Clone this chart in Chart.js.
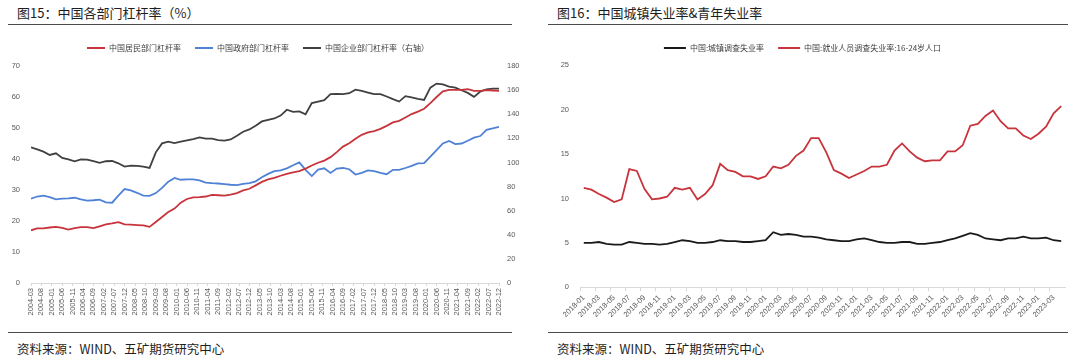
<!DOCTYPE html>
<html>
<head>
<meta charset="utf-8">
<script src="https://cdn.jsdelivr.net/npm/chart.js@4.4.0/dist/chart.umd.min.js"></script>
<style>
  body { margin: 0; background: #fff; width: 1080px; height: 358px; position: relative; overflow: hidden;
         font-family: "Noto Sans CJK SC", sans-serif; color: #1e1e1e; }
  .title { position: absolute; top: 5px; font-size: 13px; line-height: 16px; white-space: nowrap; }
  .src { position: absolute; top: 341px; font-size: 12.5px; line-height: 16px; white-space: nowrap; }
  .rule { position: absolute; height: 1.6px; background: #4a4a4a; }
  canvas { position: absolute; top: 30px; }
</style>
</head>
<body>
<div class="title" style="left:17px">图15：中国各部门杠杆率（%）</div>
<div class="rule" style="left:8px;width:504px;top:23.5px"></div>
<div class="rule" style="left:8px;width:504px;top:331.5px"></div>
<div class="src" style="left:17px">资料来源：WIND、五矿期货研究中心</div>

<div class="title" style="left:557px">图16：中国城镇失业率&amp;青年失业率</div>
<div class="rule" style="left:548px;width:520px;top:23.5px"></div>
<div class="rule" style="left:548px;width:520px;top:331.5px"></div>
<div class="src" style="left:557px">资料来源：WIND、五矿期货研究中心</div>

<canvas id="lev" width="547" height="300" style="left:-7px"></canvas>
<canvas id="unemp" width="540" height="300" style="left:540px"></canvas>

<script>
// ---- 图15 data (quarterly) ----
const quarters = [
  "2004-03","2004-06","2004-09","2004-12","2005-03","2005-06","2005-09","2005-12",
  "2006-03","2006-06","2006-09","2006-12","2007-03","2007-06","2007-09","2007-12",
  "2008-03","2008-06","2008-09","2008-12","2009-03","2009-06","2009-09","2009-12",
  "2010-03","2010-06","2010-09","2010-12","2011-03","2011-06","2011-09","2011-12",
  "2012-03","2012-06","2012-09","2012-12","2013-03","2013-06","2013-09","2013-12",
  "2014-03","2014-06","2014-09","2014-12","2015-03","2015-06","2015-09","2015-12",
  "2016-03","2016-06","2016-09","2016-12","2017-03","2017-06","2017-09","2017-12",
  "2018-03","2018-06","2018-09","2018-12","2019-03","2019-06","2019-09","2019-12",
  "2020-03","2020-06","2020-09","2020-12","2021-03","2021-06","2021-09","2021-12",
  "2022-03","2022-06","2022-09","2022-12"
];
const household = [
  17.0, 17.6, 17.6, 17.9, 18.1, 17.8, 17.2, 17.7, 18.0, 18.0,
  17.7, 18.3, 18.9, 19.2, 19.6, 18.9, 18.8, 18.7, 18.6, 18.1,
  19.7, 21.3, 22.9, 24.0, 25.9, 27.1, 27.6, 27.7, 27.9, 28.4,
  28.3, 28.2, 28.5, 29.0, 29.9, 30.4, 31.5, 32.6, 33.4, 33.9,
  34.6, 35.2, 35.7, 36.1, 36.9, 37.9, 38.8, 39.5, 40.6, 42.2,
  44.0, 45.1, 46.5, 47.8, 48.6, 49.0, 49.7, 50.7, 51.8, 52.3,
  53.4, 54.5, 55.3, 56.2, 58.0, 60.0, 61.8, 62.3, 62.3, 62.3,
  62.5, 62.0, 62.0, 62.2, 62.1, 62.0
];
const government = [
  27.2, 27.9, 28.2, 27.7, 27.0, 27.2, 27.3, 27.5, 27.0, 26.6,
  26.7, 26.9, 26.0, 25.9, 28.2, 30.3, 29.9, 29.1, 28.2, 28.1,
  29.0, 30.7, 32.7, 33.9, 33.3, 33.4, 33.4, 33.1, 32.4, 32.2,
  32.1, 31.9, 31.7, 31.6, 32.0, 32.2, 32.8, 34.1, 35.2, 36.1,
  36.3, 37.0, 38.0, 38.9, 36.5, 34.5, 36.6, 37.0, 35.5, 36.9,
  37.1, 36.7, 35.0, 35.5, 36.3, 36.1, 35.5, 35.1, 36.5, 36.5,
  37.1, 37.8, 38.6, 38.7, 40.8, 42.9, 45.0, 45.8, 44.8, 45.0,
  45.9, 46.9, 47.4, 49.4, 49.9, 50.4
];
const corporate = [
  112.5, 110.9, 109.0, 106.2, 107.6, 103.8, 102.6, 101.0, 102.6, 102.3,
  101.0, 99.6, 101.0, 101.2, 99.3, 96.6, 97.4, 97.1, 96.6, 95.5,
  108.4, 115.8, 117.2, 116.1, 117.2, 118.3, 119.4, 120.8, 119.7, 119.7,
  118.6, 118.1, 119.1, 122.2, 125.5, 127.4, 130.4, 134.0, 135.3, 136.5,
  138.9, 143.7, 142.0, 142.3, 140.0, 149.2, 150.5, 151.6, 156.6, 156.9,
  156.6, 157.4, 160.4, 159.4, 158.0, 156.6, 156.6, 154.7, 152.5, 150.5,
  155.0, 153.9, 152.8, 151.9, 162.0, 165.4, 164.8, 162.9, 162.0, 159.9,
  157.7, 154.4, 158.8, 160.7, 161.3, 161.3
];

// ---- 图16 data (monthly) ----
const months = [
  "2018-01","2018-02","2018-03","2018-04","2018-05","2018-06","2018-07","2018-08","2018-09","2018-10","2018-11","2018-12",
  "2019-01","2019-02","2019-03","2019-04","2019-05","2019-06","2019-07","2019-08","2019-09","2019-10","2019-11","2019-12",
  "2020-01","2020-02","2020-03","2020-04","2020-05","2020-06","2020-07","2020-08","2020-09","2020-10","2020-11","2020-12",
  "2021-01","2021-02","2021-03","2021-04","2021-05","2021-06","2021-07","2021-08","2021-09","2021-10","2021-11","2021-12",
  "2022-01","2022-02","2022-03","2022-04","2022-05","2022-06","2022-07","2022-08","2022-09","2022-10","2022-11","2022-12",
  "2023-01","2023-02","2023-03","2023-04"
];
const urbanRate = [
  5.0, 5.0, 5.1, 4.9, 4.8, 4.8, 5.1, 5.0, 4.9, 4.9, 4.8, 4.9,
  5.1, 5.3, 5.2, 5.0, 5.0, 5.1, 5.3, 5.2, 5.2, 5.1, 5.1, 5.2,
  5.3, 6.2, 5.9, 6.0, 5.9, 5.7, 5.7, 5.6, 5.4, 5.3, 5.2, 5.2,
  5.4, 5.5, 5.3, 5.1, 5.0, 5.0, 5.1, 5.1, 4.9, 4.9, 5.0, 5.1,
  5.3, 5.5, 5.8, 6.1, 5.9, 5.5, 5.4, 5.3, 5.5, 5.5, 5.7, 5.5,
  5.5, 5.6, 5.3, 5.2
];
const youthRate = [
  11.2, 11.0, 10.5, 10.1, 9.6, 9.9, 13.3, 13.1, 11.1, 9.9, 10.0, 10.2,
  11.2, 11.0, 11.2, 9.9, 10.5, 11.5, 13.9, 13.2, 13.0, 12.5, 12.5, 12.2,
  12.5, 13.6, 13.4, 13.8, 14.8, 15.4, 16.8, 16.8, 15.2, 13.2, 12.8, 12.3,
  12.7, 13.1, 13.6, 13.6, 13.8, 15.4, 16.2, 15.3, 14.6, 14.2, 14.3, 14.3,
  15.3, 15.3, 16.0, 18.2, 18.4, 19.3, 19.9, 18.7, 17.9, 17.9, 17.1, 16.7,
  17.3, 18.1, 19.6, 20.4
];

const RED = "#c8343c";
const BLUE = "#4f82d6";
const GREY = "#404040";
const BLACK = "#1a1a1a";
const TICK = "#595959";
const AXIS = "#d9d9d9";
const numFont = { family: "'Liberation Sans', Arial, sans-serif", size: 7.5 };
const cjkFont = { family: "'Noto Sans CJK SC', sans-serif", size: 8 };

// month index relative to 2004-03
const baseMonth = 2004 * 12 + 2;
function monthIndex(s) {
  const [y, m] = s.split("-").map(Number);
  return y * 12 + (m - 1) - baseMonth;
}
function monthLabel(v) {
  const t = baseMonth + v;
  const y = Math.floor(t / 12), m = t % 12 + 1;
  return y + "-" + String(m).padStart(2, "0");
}
function toPoints(vals) {
  return vals.map((v, i) => ({ x: monthIndex(quarters[i]), y: v }));
}
function thinLegend(chart) {
  const items = Chart.defaults.plugins.legend.labels.generateLabels(chart);
  items.forEach(it => { it.lineWidth = 0; });
  return items;
}

// extra space under the legend, so it can sit higher than the plot
const legendGap = {
  id: "legendGap",
  beforeLayout(chart, args, opts) {
    const lg = chart.legend;
    if (lg && !lg._gapPatched) {
      const fit = lg.fit;
      lg.fit = function () { fit.call(this); this.height += opts.extra || 0; };
      lg._gapPatched = true;
    }
  }
};

new Chart(document.getElementById("lev"), {
  type: "line",
  data: {
    datasets: [
      { label: "中国居民部门杠杆率", data: toPoints(household), borderColor: RED, backgroundColor: RED, yAxisID: "y" },
      { label: "中国政府部门杠杆率", data: toPoints(government), borderColor: BLUE, backgroundColor: BLUE, yAxisID: "y" },
      { label: "中国企业部门杠杆率（右轴）", data: toPoints(corporate), borderColor: GREY, backgroundColor: GREY, yAxisID: "y1" }
    ]
  },
  plugins: [legendGap],
  options: {
    responsive: false,
    animation: false,
    elements: { point: { radius: 0 }, line: { borderWidth: 1.8, tension: 0 } },
    layout: { padding: { left: 0, right: 17, top: 0, bottom: 0 } },
    plugins: {
      tooltip: { enabled: false },
      legendGap: { extra: 4 },
      legend: {
        labels: { boxWidth: 18, boxHeight: 2, padding: 14, color: "#404040", font: cjkFont, generateLabels: thinLegend }
      }
    },
    scales: {
      x: {
        type: "linear", min: 0, max: 225,
        afterFit: s => { s.height = 47; },
        ticks: { stepSize: 5, maxTicksLimit: 100, autoSkip: false, minRotation: 90, maxRotation: 90,
                 padding: 2, color: TICK, font: numFont, callback: v => monthLabel(v) },
        grid: { drawOnChartArea: false, tickLength: 3, color: AXIS },
        border: { color: AXIS }
      },
      y: {
        min: 0, max: 70,
        afterFit: s => { s.width = 38; },
        ticks: { stepSize: 10, padding: 11, color: TICK, font: numFont },
        grid: { display: false, drawTicks: false },
        border: { display: false }
      },
      y1: {
        position: "right", min: 0, max: 180,
        afterFit: s => { s.width = 24; },
        ticks: { stepSize: 20, padding: 8, color: TICK, font: numFont },
        grid: { display: false, drawTicks: false },
        border: { display: false }
      }
    }
  }
});

new Chart(document.getElementById("unemp"), {
  type: "line",
  data: {
    labels: months,
    datasets: [
      { label: "中国:城镇调查失业率", data: urbanRate, borderColor: BLACK, backgroundColor: BLACK },
      { label: "中国:就业人员调查失业率:16-24岁人口", data: youthRate, borderColor: RED, backgroundColor: RED }
    ]
  },
  plugins: [legendGap],
  options: {
    responsive: false,
    animation: false,
    elements: { point: { radius: 0 }, line: { borderWidth: 1.8, tension: 0 } },
    layout: { padding: { left: 0, right: 15, top: 0, bottom: 0 } },
    plugins: {
      tooltip: { enabled: false },
      legendGap: { extra: 3.3 },
      legend: {
        labels: { boxWidth: 22, boxHeight: 2, padding: 14, color: "#404040", font: cjkFont, generateLabels: thinLegend }
      }
    },
    scales: {
      x: {
        offset: true,
        afterFit: s => { s.height = 42.7; },
        ticks: { autoSkip: false, minRotation: 45, maxRotation: 45, padding: 2, color: TICK, font: numFont,
                 callback: (v, i) => (i % 2 === 0 ? months[i] : "") },
        grid: { drawOnChartArea: false, offset: true, tickLength: 4,
                color: c => (c.index % 2 === 0 ? AXIS : "rgba(0,0,0,0)") },
        border: { color: AXIS }
      },
      y: {
        min: 0, max: 25,
        afterFit: s => { s.width = 40; },
        ticks: { stepSize: 5, padding: 11, color: TICK, font: numFont },
        grid: { display: false, drawTicks: false },
        border: { display: false }
      }
    }
  }
});
</script>
</body>
</html>
